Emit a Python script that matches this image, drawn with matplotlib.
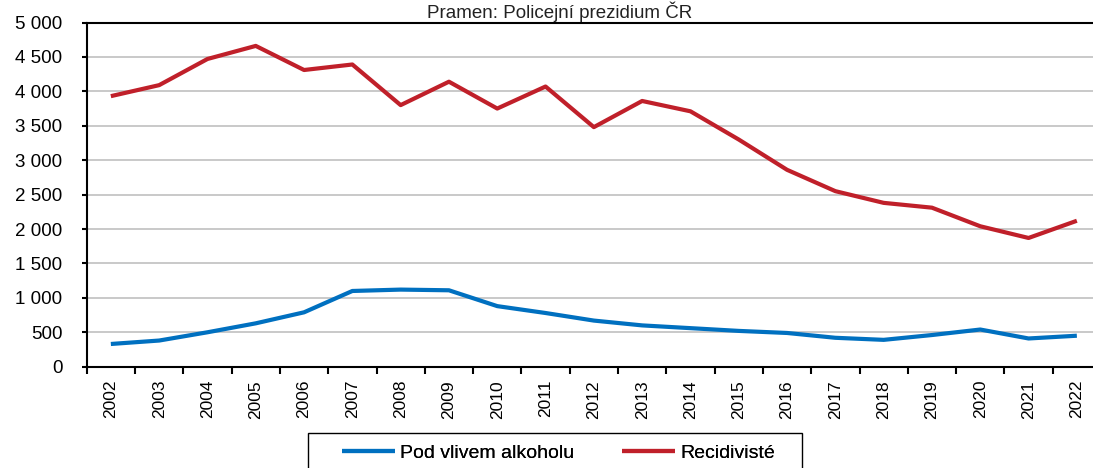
import matplotlib.pyplot as plt
from matplotlib.ticker import FixedLocator, FuncFormatter
from matplotlib.patches import Rectangle

plt.rcParams['font.family'] = ['Liberation Sans', 'DejaVu Sans']

years = [str(y) for y in range(2002, 2023)]
alkohol = [330, 380, 500, 630, 790, 1100, 1120, 1110, 880, 780, 670,
           600, 560, 520, 490, 420, 390, 460, 540, 410, 450]
recidivis = [3930, 4090, 4470, 4660, 4310, 4390, 3800, 4140, 3750, 4070, 3480,
             3860, 3710, 3300, 2860, 2550, 2380, 2310, 2040, 1870, 2120]

W, H = 1093, 468
fig = plt.figure(figsize=(W / 100, H / 100), dpi=100)
ax = fig.add_axes([86.7 / W, 1 - 366.7 / H, (1101 - 86.7) / W, (366.7 - 22.5) / H])

x = list(range(len(years)))
l1, = ax.plot(x, alkohol, color='#0070c0', lw=3, solid_capstyle='butt', label='Pod vlivem alkoholu')
l2, = ax.plot(x, recidivis, color='#c0202a', lw=3, solid_capstyle='butt', label='Recidivisté')

ax.set_xlim(-0.5, len(years) - 0.5)
ax.set_ylim(0, 5000)
ax.set_yticks(range(0, 5001, 500))
ax.yaxis.set_major_formatter(FuncFormatter(lambda v, p: f'{int(v):,}'.replace(',', ' ')))
ax.grid(axis='y', color='#c0c0c0', lw=1.2)
ax.set_axisbelow(True)

ax.xaxis.set_major_locator(FixedLocator([i - 0.5 for i in range(len(years) + 1)]))
ax.xaxis.set_major_formatter(FuncFormatter(lambda v, p: ''))
ax.xaxis.set_minor_locator(FixedLocator(x))
ax.set_xticklabels(years, minor=True, rotation=90)
ax.tick_params(axis='x', which='major', direction='out', length=5, width=1.5)
ax.tick_params(axis='x', which='minor', length=0, pad=9.5, labelsize=12.5)
ax.tick_params(axis='y', direction='out', length=3.6, width=1.5, pad=14, labelsize=13.5)

for s in ['left', 'bottom', 'top']:
    ax.spines[s].set_linewidth(1.5)
ax.spines['right'].set_visible(False)

# source line just above the plot
fig.text(560 / W, 1 - 17.5 / H, 'Pramen: Policejní prezidium ČR', ha='center', va='baseline',
         fontsize=13.5, color='#222222')

# legend box drawn by hand, bottom runs off the picture
fig.patches.append(Rectangle((308 / W, 1 - 478 / H), (802 - 308) / W, 45 / H,
                             transform=fig.transFigure, fill=False, ec='black', lw=1))
for line, x0 in [(l1, 342), (l2, 622)]:
    leg = fig.legend(handles=[line], loc='center left', bbox_to_anchor=(x0 / W, 1 - 453 / H),
                     frameon=False, fontsize=14, handlelength=2.73, handletextpad=0.26,
                     borderpad=0, borderaxespad=0)
    fig.add_artist(leg)

fig.savefig('out.png', dpi=100)
